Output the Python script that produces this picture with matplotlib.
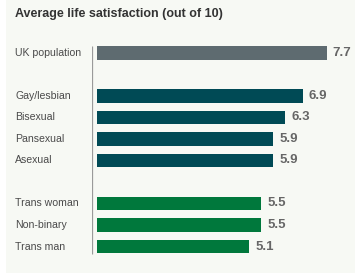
import matplotlib.pyplot as plt
from matplotlib.patches import Rectangle
import matplotlib.transforms as mtransforms

labels = ['UK population', 'Gay/lesbian', 'Bisexual', 'Pansexual', 'Asexual',
          'Trans woman', 'Non-binary', 'Trans man']
values = [7.7, 6.9, 6.3, 5.9, 5.9, 5.5, 5.5, 5.1]
slots = [0, 2, 3, 4, 5, 7, 8, 9]
colors = ['#5e6b70'] + ['#004a55'] * 4 + ['#00783c'] * 3

W, H = 355, 275
fig = plt.figure(figsize=(W / 100, H / 100), dpi=100)
fig.patch.set_facecolor('white')

# light panel behind everything
fig.patches.append(Rectangle((6 / W, 2 / H), (W - 6) / W, 1 - 2 / H,
                             transform=fig.transFigure, facecolor='#f7f9f4',
                             edgecolor='none', zorder=-10))

# axes placed in pixel terms
ax_l, ax_r, ax_t, ax_b = 92, 355, 40, 260
ax = fig.add_axes([ax_l / W, 1 - ax_b / H, (ax_r - ax_l) / W, (ax_b - ax_t) / H])
ax.set_facecolor('none')
px_unit = 29.85
slot_px = 21.5
ax.set_xlim((ax_l - 97) / px_unit, (ax_r - 97) / px_unit)
ax.set_ylim((ax_b - 53) / slot_px, (ax_t - 53) / slot_px)
for s in ax.spines.values():
    s.set_visible(False)
ax.set_xticks([])
ax.set_yticks([])

ax.barh(slots, values, height=0.65, color=colors, edgecolor='none')

# thin vertical axis line
ax.plot([(ax_l - 97) / px_unit + 0.01] * 2, [-0.33, 9.33], color='#9a9a9a',
        lw=0.9, solid_capstyle='butt')

trans = mtransforms.blended_transform_factory(fig.transFigure, ax.transData)
for lab, v, y in zip(labels, values, slots):
    ax.text(15 / W, y, lab, transform=trans, ha='left', va='center',
            fontsize=7.6, color='#4a4a4a', family='Liberation Sans')
    ax.text(v + 6 / px_unit, y, f'{v:.1f}', ha='left', va='center',
            fontsize=9.5, color='#666666', fontweight='bold',
            family=['Liberation Sans Narrow', 'Liberation Sans'])

fig.text(15 / W, 1 - 14 / H, 'Average life satisfaction (out of 10)',
         ha='left', va='center', fontsize=9, fontweight='bold',
         color='#333333', family='Liberation Sans')

fig.savefig('out.png', dpi=100, facecolor='white')
